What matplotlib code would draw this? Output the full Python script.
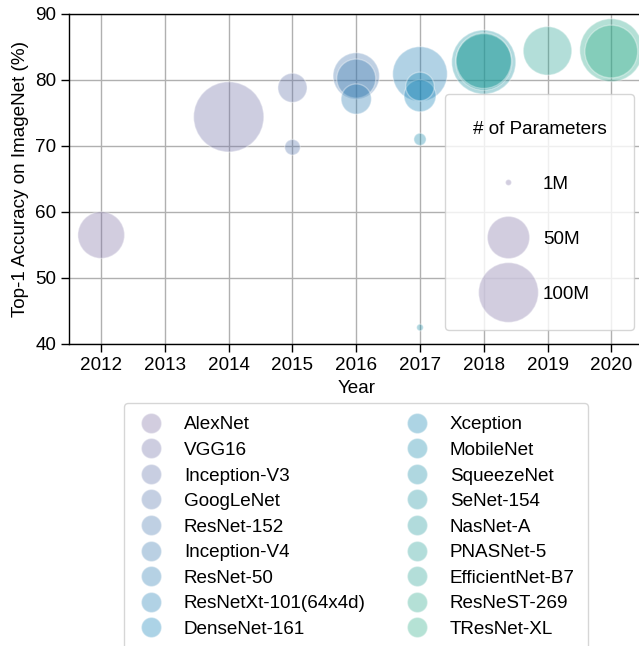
# bubble chart: ImageNet top-1 accuracy vs year, bubble area = parameter count

import numpy as np
import matplotlib
matplotlib.use('Agg')
import matplotlib.pyplot as plt
from matplotlib.colors import LinearSegmentedColormap
from matplotlib.lines import Line2D

models = ['AlexNet', 'VGG16', 'Inception-V3', 'GoogLeNet', 'ResNet-152',
          'Inception-V4', 'ResNet-50', 'ResNetXt-101(64x4d)', 'DenseNet-161',
          'Xception', 'MobileNet', 'SqueezeNet', 'SeNet-154', 'NasNet-A',
          'PNASNet-5', 'EfficientNet-B7', 'ResNeST-269', 'TResNet-XL']
years = [2012, 2014, 2015, 2015, 2016, 2016, 2016, 2017, 2017,
         2017, 2017, 2017, 2018, 2018, 2018, 2019, 2020, 2020]
top1 = [56.5, 74.4, 78.8, 69.8, 80.6, 80.2, 77.1, 80.9, 77.6,
        79.0, 71.0, 42.5, 82.7, 82.7, 82.9, 84.4, 84.5, 84.3]
params_m = [61, 138, 23.8, 6.8, 60.2, 42.7, 25.6, 83.5, 28.7,
            22.9, 4.2, 1.25, 115, 88.9, 86.1, 66, 111, 78]
size_ref = [1, 50, 100]
size_labels = ['1M', '50M', '100M']

plt.rcParams['font.family'] = ['Liberation Sans', 'DejaVu Sans']
plt.rcParams['font.size'] = 13.6

cmap = LinearSegmentedColormap.from_list(
    'pubugn_soft',
    [(0.0, '#7e70a6'), (8 / 17, '#1281b8'), (1.0, '#2cac87')])
colors = [cmap(i / (len(models) - 1)) for i in range(len(models))]
alpha = 0.35
scale = 18.5  # pt^2 per million params


def bubble_size(p):
    return np.asarray(p) * scale


fig = plt.figure(figsize=(6.39, 6.46), dpi=100)
ax = fig.add_axes([0.1085, 0.4675, 0.898, 0.511])

ax.scatter(years, top1, s=bubble_size(params_m), c=colors, alpha=alpha,
           edgecolors='white', linewidths=1, zorder=3)

ax.set_xlim(2011.5, 2020.5)
ax.set_ylim(40, 90)
ax.set_xticks(range(2012, 2021))
ax.set_yticks(range(40, 91, 10))
ax.grid(True, color='#b0b0b0', linewidth=1)
ax.set_axisbelow(True)
for sp in ax.spines.values():
    sp.set_linewidth(1.0)
ax.tick_params(direction='out', length=6, width=1)
ax.set_xlabel('Year')
ax.set_ylabel('Top-1 Accuracy on ImageNet (%)')

# size legend
size_handles = [Line2D([], [], linestyle='none', marker='o',
                       markersize=np.sqrt(bubble_size(p)),
                       markerfacecolor=colors[0], markeredgecolor='white',
                       markeredgewidth=1, alpha=alpha)
                for p in size_ref]
leg_size = ax.legend(size_handles, size_labels, title='# of Parameters',
                     loc='upper left', bbox_to_anchor=(0.655, 0.758),
                     borderaxespad=0, labelspacing=1.99, borderpad=1.45,
                     handlelength=2, handletextpad=0.85, title_fontsize=13.6)
ax.add_artist(leg_size)

# model legend
model_handles = [Line2D([], [], linestyle='none', marker='o', markersize=14.5,
                        markerfacecolor=c, markeredgecolor='white',
                        markeredgewidth=1, alpha=alpha)
                 for c in colors]
ax.legend(model_handles, models, loc='upper center', ncol=2,
          bbox_to_anchor=(0.5, -0.1788), borderaxespad=0, borderpad=0.7,
          labelspacing=0.44, handlelength=1.4, handletextpad=1.05,
          columnspacing=2.0)

fig.savefig('out.png', dpi=100)
